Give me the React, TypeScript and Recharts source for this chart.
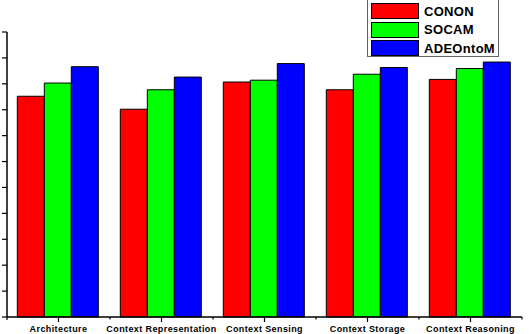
import React from 'react';
import { BarChart, Bar, XAxis, YAxis } from 'recharts';

const categories = ['Architecture', 'Context Representation', 'Context Sensing', 'Context Storage', 'Context Reasoning'];
const conon = [85.2, 80.2, 90.7, 87.7, 91.7];
const socam = [90.3, 87.7, 91.4, 93.7, 95.9];
const adeontom = [96.6, 92.6, 97.8, 96.3, 98.4];
const yTicks = [0, 10, 20, 30, 40, 50, 60, 70, 80, 90, 100, 110];

const series = [
  { key: 'CONON', color: '#FF0000' },
  { key: 'SOCAM', color: '#00FF00' },
  { key: 'ADEOntoM', color: '#0000FF' },
];

const data = categories.map((c, i) => ({
  name: c,
  CONON: conon[i],
  SOCAM: socam[i],
  ADEOntoM: adeontom[i],
}));

const W = 529;
const H = 334;
const margin = { top: 32, right: 7, left: 0, bottom: 0 };
const yAxisWidth = 7;
const plotWidth = W - margin.left - margin.right - yAxisWidth;
const band = plotWidth / categories.length;

const XTick = (props: any) => {
  const { x, y, payload } = props;
  return (
    <g>
      <line x1={x} y1={y} x2={x} y2={y + 5} stroke="#000" strokeWidth={1.2} />
      <line x1={x + band / 2} y1={y} x2={x + band / 2} y2={y + 2.5} stroke="#000" strokeWidth={1.2} />
      {payload.index === 0 && (
        <line x1={x - band / 2} y1={y} x2={x - band / 2} y2={y + 3} stroke="#000" strokeWidth={1.2} />
      )}
      <text
        x={x}
        y={y + 15}
        textAnchor="middle"
        fontFamily="Liberation Sans, Arial, sans-serif"
        fontWeight="bold"
        fontSize={9}
        letterSpacing={0.4}
        fill="#000"
      >
        {payload.value}
      </text>
    </g>
  );
};

const LegendBox = () => (
  <div
    style={{
      position: 'absolute',
      left: 367,
      top: -1,
      border: '1px solid #666',
      background: '#fff',
      width: 132,
      height: 58,
      boxSizing: 'border-box',
      padding: '2px 0 0 3px',
    }}
  >
    {series.map((s) => (
      <div key={s.key} style={{ display: 'flex', alignItems: 'center', height: 18.5 }}>
        <div
          style={{
            width: 48,
            height: 16,
            background: s.color,
            border: '1px solid #000',
            boxSizing: 'border-box',
          }}
        />
        <span
          style={{
            marginLeft: 5,
            fontFamily: 'Liberation Sans, Arial, sans-serif',
            fontWeight: 'bold',
            fontSize: 13,
            letterSpacing: 0.3,
            color: '#000',
          }}
        >
          {s.key}
        </span>
      </div>
    ))}
  </div>
);

export default function App() {
  return (
    <div style={{ position: 'absolute', left: 0, top: 0, width: W, height: H, background: '#fff', overflow: 'hidden' }}>
      <BarChart
        width={W}
        height={H}
        data={data}
        margin={margin}
        barCategoryGap="10%"
        barGap={0}
      >
        <XAxis
          dataKey="name"
          axisLine={{ stroke: '#000', strokeWidth: 1.5 }}
          tickLine={false}
          tickSize={0}
          tickMargin={0}
          tick={<XTick />}
          height={H - 32 - 285}
          interval={0}
        />
        <YAxis
          domain={[0, 110]}
          ticks={yTicks}
          width={yAxisWidth}
          axisLine={{ stroke: '#000', strokeWidth: 1.5 }}
          tickLine={{ stroke: '#000', strokeWidth: 1.2 }}
          tickSize={5}
          tickFormatter={() => ''}
          interval={0}
        />
        {series.map((s) => (
          <Bar
            key={s.key}
            dataKey={s.key}
            fill={s.color}
            stroke="#000"
            strokeWidth={1}
            isAnimationActive={false}
          />
        ))}
      </BarChart>
      <LegendBox />
    </div>
  );
}
